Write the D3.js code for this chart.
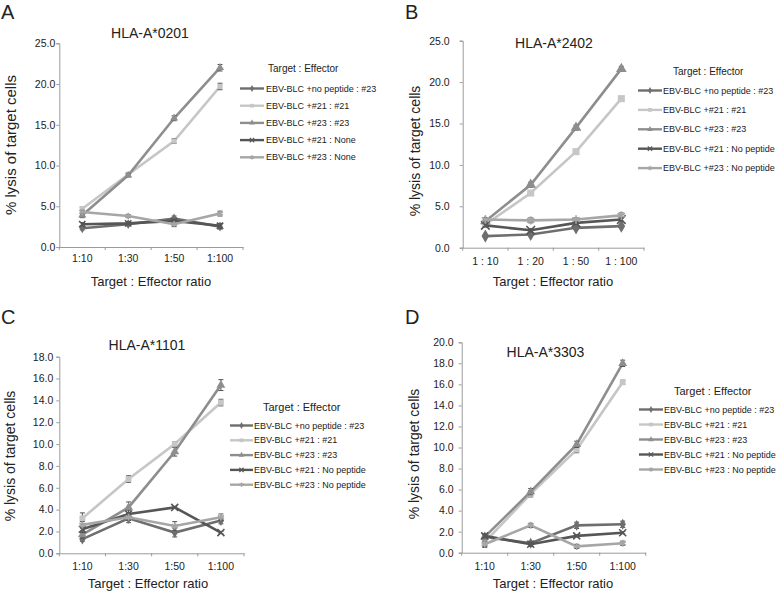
<!DOCTYPE html>
<html><head><meta charset="utf-8">
<script src="https://cdn.jsdelivr.net/npm/d3@7"></script>
<style>body{margin:0;background:#fff} text{font-family:"Liberation Sans",Arial,sans-serif;fill:#222}</style>
</head><body><svg id="c" width="778" height="592"></svg>
<script>
// ---------- data ----------
const ratiosA = ["1:10","1:30","1:50","1:100"];
const ratiosB = ["1 : 10","1 : 20","1 : 50","1 : 100"];
const ratiosC = ["1:10","1:30","1:50","1:100"];
const ratiosD = ["1:10","1:30","1:50","1:100"];

const legendA = ["EBV-BLC +no peptide : #23","EBV-BLC +#21 : #21","EBV-BLC +#23 : #23","EBV-BLC +#21 : None","EBV-BLC +#23 : None"];
const legendBCD = ["EBV-BLC +no peptide : #23","EBV-BLC +#21 : #21","EBV-BLC +#23 : #23","EBV-BLC +#21 : No peptide","EBV-BLC +#23 : No peptide"];

const titles = ["HLA-A*0201","HLA-A*2402","HLA-A*1101","HLA-A*3303"];
const panelLetters = ["A","B","C","D"];
const yTicksA = [0,5,10,15,20,25];
const yTicksB = [0,5,10,15,20,25];
const yTicksC = [0,2,4,6,8,10,12,14,16,18];
const yTicksD = [0,2,4,6,8,10,12,14,16,18,20];

// series order: noPep#23, #21:#21, #23:#23, #21:None, #23:None
const valuesA = [
  [2.3, 2.8, 3.5, 2.5],
  [4.7, 8.9, 13.0, 19.7],
  [3.9, 8.8, 15.8, 22.0],
  [2.8, 2.9, 3.2, 2.6],
  [4.3, 3.8, 2.8, 4.1]
];
const errorsA = [
  [0.2,0.2,0.3,0.3],[0.2,0.2,0.3,0.4],[0.3,0.2,0.3,0.4],[0.2,0.2,0.2,0.3],[0.2,0.2,0.3,0.3]
];
const valuesB = [
  [1.4, 1.6, 2.4, 2.6],
  [2.8, 6.6, 11.6, 18.0],
  [3.2, 7.6, 14.5, 21.6],
  [2.7, 2.1, 3.0, 3.4],
  [3.4, 3.3, 3.4, 3.9]
];
const errorsB = [
  [0.1,0.1,0.2,0.2],[0.1,0.2,0.2,0.2],[0.2,0.3,0.3,0.3],[0.2,0.2,0.2,0.2],[0.2,0.3,0.2,0.3]
];
const valuesC = [
  [1.3, 3.2, 1.9, 3.0],
  [3.2, 6.8, 10.0, 13.8],
  [1.7, 4.2, 9.3, 15.4],
  [2.2, 3.6, 4.2, 1.9],
  [2.6, 3.3, 2.5, 3.3]
];
const errorsC = [
  [0.2,0.4,0.4,0.3],[0.5,0.3,0.2,0.3],[0.3,0.5,0.4,0.5],[0.3,0.3,0.1,0.1],[0.3,0.3,0.4,0.3]
];
const valuesD = [
  [1.5, 0.9, 2.6, 2.7],
  [1.0, 5.6, 9.8, 16.2],
  [1.5, 5.8, 10.3, 18.0],
  [1.6, 0.8, 1.6, 1.9],
  [0.8, 2.6, 0.6, 0.9]
];
const errorsD = [
  [0.2,0.2,0.3,0.3],[0.4,0.3,0.3,0.2],[0.2,0.3,0.3,0.3],[0.2,0.2,0.1,0.1],[0.3,0.2,0.2,0.2]
];

// ---------- styles ----------
const colors = ["#6e6e6e","#c6c6c6","#8e8e8e","#565656","#a6a6a6"];
const symbols = [d3.symbolDiamond, d3.symbolSquare, d3.symbolTriangle, d3.symbolTimes, d3.symbolAsterisk];
const filled = [true,true,true,false,false];

const layout = [
  {x0:59.3,x1:243,yT:43.3,yB:247,lp:1,title:[150,38],letter:[1,19],ylab:[11,145],xlab:[151,286],xtl:262,ms:28,
   leg:{tx:268,ty:72,lx0:240,lx1:264,tx0:266,y0:88.5,dy:17.2,fs:9,tfs:10}},
  {x0:462.7,x1:644,yT:40.7,yB:247.7,lp:10,title:[554,48],letter:[405,19],ylab:[415,151],xlab:[553,286],xtl:265,ms:50,
   leg:{tx:673,ty:75,lx0:638,lx1:662,tx0:663,y0:90.5,dy:19.4,fs:9,tfs:10}},
  {x0:59.3,x1:244,yT:356.7,yB:553.3,lp:3,title:[147,350],letter:[1,324],ylab:[10,456],xlab:[148,588],xtl:570.5,ms:34,
   leg:{tx:263,ty:410.5,lx0:230,lx1:253,tx0:254,y0:425.5,dy:14.8,fs:9,tfs:11}},
  {x0:461.7,x1:645.7,yT:342.3,yB:552.7,lp:5,title:[545.5,356.5],letter:[405,324],ylab:[414,454],xlab:[553,588],xtl:570,ms:34,
   leg:{tx:674,ty:395,lx0:639,lx1:663,tx0:664,y0:409.5,dy:15,fs:9,tfs:11}}
];

const panels = [
  {cats:ratiosA, vals:valuesA, errs:errorsA, legend:legendA, ticks:yTicksA},
  {cats:ratiosB, vals:valuesB, errs:errorsB, legend:legendBCD, ticks:yTicksB},
  {cats:ratiosC, vals:valuesC, errs:errorsC, legend:legendBCD, ticks:yTicksC},
  {cats:ratiosD, vals:valuesD, errs:errorsD, legend:legendBCD, ticks:yTicksD}
];

const svg = d3.select("#c");
svg.append("rect").attr("width",778).attr("height",592).attr("fill","#fff");

panels.forEach((p,i)=>{
  const L = layout[i];
  const g = svg.append("g");
  const x = d3.scaleBand().domain(p.cats).range([L.x0,L.x1]);
  const yMax = p.ticks[p.ticks.length-1];
  const y = d3.scaleLinear().domain([0,yMax]).range([L.yB,L.yT]);

  // axes
  const ya = g.append("g").attr("transform",`translate(${L.x0},0)`)
    .call(d3.axisLeft(y).tickValues(p.ticks).tickFormat(d3.format(".1f")).tickSizeOuter(0).tickSize(3).tickPadding(L.lp));
  ya.selectAll("text").attr("font-size",10.5).attr("fill","#222").style("font-family","Liberation Sans, Arial, sans-serif");
  ya.selectAll("line,path").attr("stroke","#9a9a9a");

  const xa = g.append("g").attr("transform",`translate(0,${L.yB})`)
    .call(d3.axisBottom(x).tickSize(0).tickSizeOuter(0).tickPadding(0));
  xa.selectAll("text").attr("font-size",10.5).attr("fill","#222").attr("dy",null)
    .attr("y",L.xtl-L.yB).style("font-family","Liberation Sans, Arial, sans-serif");
  xa.selectAll("path").attr("stroke","#9a9a9a");
  // band boundary tick marks
  const bounds = p.cats.map(c=>x(c)).concat([x(p.cats[p.cats.length-1])+x.bandwidth()]);
  g.selectAll(".bt").data(bounds).enter().append("line")
    .attr("x1",d=>d).attr("x2",d=>d).attr("y1",L.yB).attr("y2",L.yB+3).attr("stroke","#9a9a9a");

  // titles
  g.append("text").attr("x",L.title[0]).attr("y",L.title[1]).attr("text-anchor","middle").attr("font-size",14).text(titles[i]);
  g.append("text").attr("x",L.letter[0]).attr("y",L.letter[1]).attr("font-size",20).text(panelLetters[i]);
  g.append("text").attr("transform",`translate(${L.ylab[0]},${L.ylab[1]}) rotate(-90)`).attr("text-anchor","middle")
    .attr("dy","0.35em").attr("font-size",i===0?15:14).text("% lysis of target cells");
  g.append("text").attr("x",L.xlab[0]).attr("y",L.xlab[1]).attr("text-anchor","middle").attr("font-size",13).text("Target : Effector ratio");

  const line = d3.line().x((d,j)=>x(p.cats[j])+x.bandwidth()/2).y(d=>y(d));
  p.vals.forEach((s,k)=>{
    const sg = g.append("g");
    sg.append("path").datum(s).attr("d",line).attr("fill","none").attr("stroke",colors[k]).attr("stroke-width",2.6);
    // error bars
    s.forEach((v,j)=>{
      const cx = x(p.cats[j])+x.bandwidth()/2, e = p.errs[k][j];
      sg.append("line").attr("x1",cx).attr("x2",cx).attr("y1",y(v-e)).attr("y2",y(v+e)).attr("stroke","#555").attr("stroke-width",1);
      [v-e,v+e].forEach(t=>sg.append("line").attr("x1",cx-2.5).attr("x2",cx+2.5).attr("y1",y(t)).attr("y2",y(t)).attr("stroke","#555").attr("stroke-width",1));
    });
    sg.selectAll(".m").data(s).enter().append("path")
      .attr("transform",(d,j)=>`translate(${x(p.cats[j])+x.bandwidth()/2},${y(d)})`)
      .attr("d",d3.symbol().type(symbols[k]).size(L.ms))
      .attr("fill",filled[k]?colors[k]:"none").attr("stroke",colors[k]).attr("stroke-width",filled[k]?0:1.6);
  });

  // legend
  const lg = L.leg;
  g.append("text").attr("x",lg.tx).attr("y",lg.ty).attr("font-size",lg.tfs).text("Target : Effector");
  p.legend.forEach((name,k)=>{
    const yy = lg.y0 + k*lg.dy;
    g.append("line").attr("x1",lg.lx0).attr("x2",lg.lx1).attr("y1",yy).attr("y2",yy).attr("stroke",colors[k]).attr("stroke-width",2.4);
    g.append("path").attr("transform",`translate(${(lg.lx0+lg.lx1)/2},${yy})`)
      .attr("d",d3.symbol().type(symbols[k]).size(14))
      .attr("fill",filled[k]?colors[k]:"none").attr("stroke",colors[k]).attr("stroke-width",filled[k]?0:1.2);
    g.append("text").attr("x",lg.tx0).attr("y",yy).attr("dy","0.35em").attr("font-size",lg.fs).attr("fill","#333").text(name);
  });
});
</script></body></html>
